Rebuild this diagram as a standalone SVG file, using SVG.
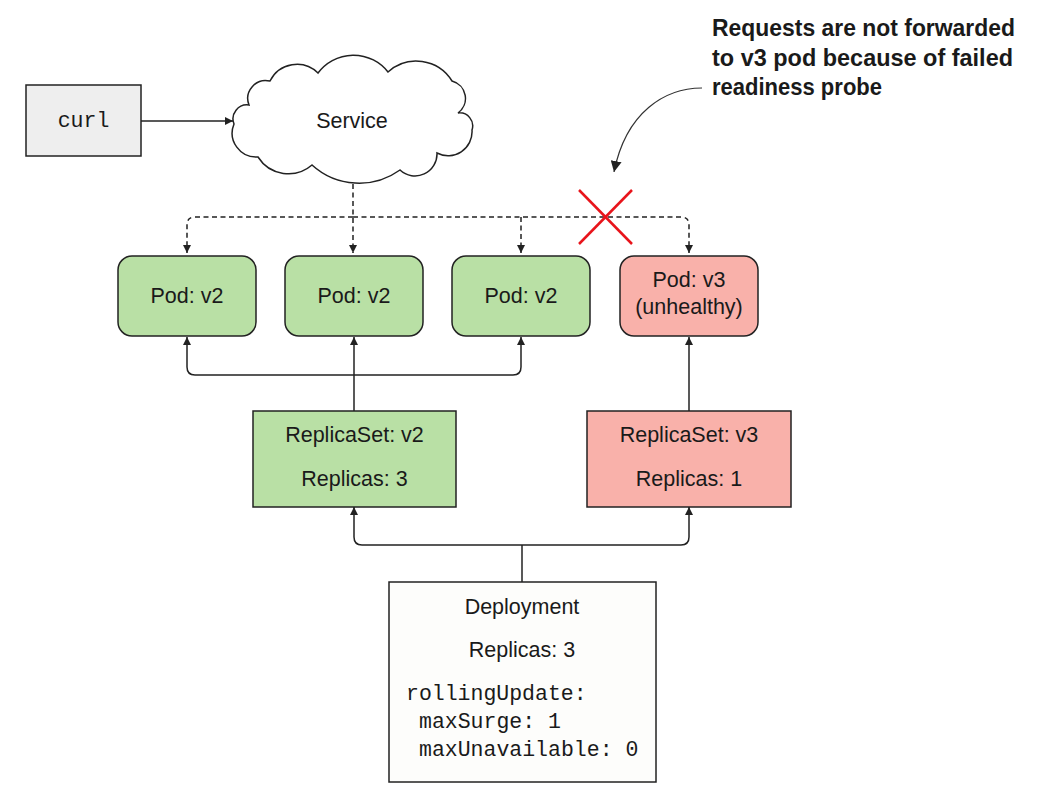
<svg xmlns="http://www.w3.org/2000/svg" width="1041" height="804" viewBox="0 0 1041 804">
<defs>
<style>
.box{stroke:#222;stroke-width:1.5}
.green{fill:#b9e0a5}
.red{fill:#f9b1aa}
.t{font-family:"Liberation Sans",Arial,sans-serif;font-size:21.5px;fill:#1a1a1a;text-anchor:middle}
.m{font-family:"Liberation Mono","Courier New",monospace;font-size:21.5px;fill:#1a1a1a}
.c{fill:none;stroke:#222;stroke-width:1.5}
.d{fill:none;stroke:#222;stroke-width:1.5;stroke-dasharray:5 3.5}
.ann{font-family:"Liberation Sans",Arial,sans-serif;font-size:24.5px;font-weight:bold;fill:#1a1a1a}
</style>
<marker id="arr" viewBox="0 0 10 10" refX="10" refY="5" markerWidth="8" markerHeight="8" markerUnits="userSpaceOnUse" orient="auto">
<path d="M0,0 L10,5 L0,10 Z" fill="#222"/>
</marker>
<marker id="arrBig" viewBox="0 0 10 10" refX="10" refY="5" markerWidth="11" markerHeight="11" markerUnits="userSpaceOnUse" orient="auto">
<path d="M0,0 L10,5 L0,10 Z" fill="#222"/>
</marker>
</defs>
<rect width="1041" height="804" fill="#ffffff"/>

<g id="connectors">
<line class="c" x1="141" y1="121" x2="233" y2="121" marker-end="url(#arr)"/>
<path class="d" d="M353 184 V253" marker-end="url(#arr)"/>
<path class="d" d="M353 217 H195 Q187 217 187 225 V253" marker-end="url(#arr)"/>
<path class="d" d="M353 217 H681 Q689 217 689 225 V253" marker-end="url(#arr)"/>
<path class="d" d="M521 217 V253" marker-end="url(#arr)"/>
<path class="c" d="M354 411 V337" marker-end="url(#arr)"/>
<path class="c" d="M354 375 H195 Q187 375 187 367 V337" marker-end="url(#arr)"/>
<path class="c" d="M354 375 H513 Q521 375 521 367 V337" marker-end="url(#arr)"/>
<path class="c" d="M689 411 V337" marker-end="url(#arr)"/>
<path class="c" d="M522 582 V545"/>
<path class="c" d="M522 545 H362 Q354 545 354 537 V507" marker-end="url(#arr)"/>
<path class="c" d="M522 545 H681 Q689 545 689 537 V507" marker-end="url(#arr)"/>
<path fill="none" stroke="#333" stroke-width="1.2" d="M702 88 C665 88 626 112 614 172" marker-end="url(#arrBig)"/>
</g>

<g id="blocked">
<line x1="579" y1="190" x2="632" y2="244" stroke="#e8141b" stroke-width="2.5"/>
<line x1="632" y1="190" x2="579" y2="244" stroke="#e8141b" stroke-width="2.5"/>
</g>

<g id="curl">
<rect class="box" x="26" y="85" width="115" height="71" fill="#eeeeee"/>
<text class="m" x="83.5" y="127" text-anchor="middle">curl</text>
</g>

<g id="service">
<path class="box" fill="#ffffff" d="M234 124 A14 14 0 0 1 249 105 A18 18 0 0 1 270 81 A30 30 0 0 1 318 73 A44 44 0 0 1 388 72 A42 42 0 0 1 452 81 A18 18 0 0 1 458 113 A13 13 0 0 1 472 130 A24 24 0 0 1 437 153 A22 22 0 0 1 400 170 A70 70 0 0 1 312 165 A36 36 0 0 1 258 157 A24 24 0 0 1 234 124 Z"/>
<text class="t" x="352" y="128">Service</text>
</g>

<g id="pod1">
<rect class="box green" x="118" y="256" width="138" height="80" rx="14"/>
<text class="t" x="187" y="303">Pod: v2</text>
</g>
<g id="pod2">
<rect class="box green" x="285" y="256" width="138" height="80" rx="14"/>
<text class="t" x="354" y="303">Pod: v2</text>
</g>
<g id="pod3">
<rect class="box green" x="452" y="256" width="138" height="80" rx="14"/>
<text class="t" x="521" y="303">Pod: v2</text>
</g>
<g id="pod4">
<rect class="box red" x="620" y="256" width="138" height="80" rx="14"/>
<text class="t" x="689" y="287">Pod: v3</text>
<text class="t" x="689" y="314">(unhealthy)</text>
</g>

<g id="rs-v2">
<rect class="box green" x="253" y="411" width="203" height="96"/>
<text class="t" x="354.5" y="442">ReplicaSet: v2</text>
<text class="t" x="354.5" y="486">Replicas: 3</text>
</g>
<g id="rs-v3">
<rect class="box red" x="587" y="411" width="204" height="96"/>
<text class="t" x="689" y="442">ReplicaSet: v3</text>
<text class="t" x="689" y="486">Replicas: 1</text>
</g>

<g id="deployment">
<rect class="box" x="389" y="582" width="267" height="200" fill="#fdfdfb"/>
<text class="t" x="522" y="614">Deployment</text>
<text class="t" x="522" y="657">Replicas: 3</text>
<text class="m" x="406" y="700">rollingUpdate:</text>
<text class="m" x="419" y="728">maxSurge: 1</text>
<text class="m" x="419" y="756">maxUnavailable: 0</text>
</g>

<g id="annotation">
<text class="ann" x="712" y="36" textLength="303" lengthAdjust="spacingAndGlyphs">Requests are not forwarded</text>
<text class="ann" x="712" y="66" textLength="301" lengthAdjust="spacingAndGlyphs">to v3 pod because of failed</text>
<text class="ann" x="712" y="95" textLength="170" lengthAdjust="spacingAndGlyphs">readiness probe</text>
</g>
</svg>
